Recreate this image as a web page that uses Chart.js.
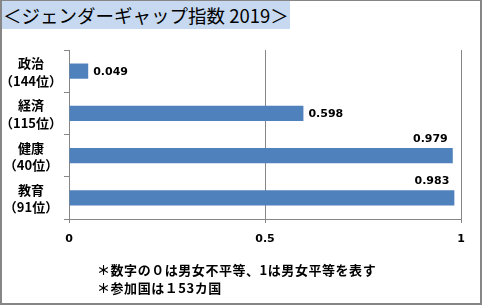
<!DOCTYPE html>
<html>
<head>
<meta charset="utf-8">
<script src="https://cdn.jsdelivr.net/npm/chart.js@4/dist/chart.umd.min.js"></script>
<style>
  html, body { margin: 0; padding: 0; background: #fff; }
  #wrap { position: relative; width: 482px; height: 305px; overflow: hidden; }
  #frame { position: absolute; left: 0; top: 0; width: 482px; height: 305px; box-sizing: border-box;
           border-style: solid; border-color: #868686; border-width: 1px 2px 2px 2px; pointer-events: none; }
  #title { position: absolute; left: 2px; top: 1px; width: 288px; height: 28px; background: #c6d9f1;
           font-family: "Noto Sans CJK JP", sans-serif; font-size: 18.5px; line-height: 28px; color: #000;
           padding-left: 1px; box-sizing: border-box; white-space: nowrap; }
  .note { position: absolute; left: 97px; font-family: "Noto Sans CJK JP", sans-serif; font-weight: bold;
          font-size: 13px; line-height: 16px; color: #000; white-space: nowrap; letter-spacing: 0.55px; }
  canvas { position: absolute; left: 0; top: 0; }
</style>
</head>
<body>
<div id="wrap">
  <canvas id="c" width="482" height="305"></canvas>
  <div id="title">＜ジェンダーギャップ指数 2019＞</div>
  <div class="note" style="top:262px">＊数字の０は男女不平等、1は男女平等を表す</div>
  <div class="note" style="top:280px">＊参加国は１53カ国</div>
  <div id="frame"></div>
</div>
<script>
const categories = [['政治', '（144位）'], ['経済', '（115位）'], ['健康', '（40位）'], ['教育', '（91位）']];
const values = [0.049, 0.598, 0.979, 0.983];
const valueLabels = ['0.049', '0.598', '0.979', '0.983'];
const xTicks = [0, 0.5, 1];

const labelPlugin = {
  id: 'barLabels',
  afterDatasetsDraw(chart) {
    const ctx = chart.ctx;
    const meta = chart.getDatasetMeta(0);
    const area = chart.chartArea;
    const yScale = chart.scales.y;
    ctx.save();
    // category labels (two lines, centred in the axis area)
    ctx.font = 'bold 13px "Noto Sans CJK JP", sans-serif';
    ctx.fillStyle = '#000';
    ctx.textAlign = 'center';
    ctx.textBaseline = 'middle';
    categories.forEach((lines, i) => {
      const cy = yScale.getPixelForTick(i);
      const cx = 31;
      ctx.fillText(lines[0], cx, cy - 8);
      ctx.fillText(lines[1], cx, cy + 9.5);
    });
    // value labels
    ctx.font = 'bold 11px "DejaVu Sans", sans-serif';
    meta.data.forEach((bar, i) => {
      const txt = valueLabels[i];
      const w = ctx.measureText(txt).width;
      if (bar.x + 5 + w <= area.right) {
        ctx.textAlign = 'left';
        ctx.fillText(txt, bar.x + 5, bar.y + 1);
      } else {
        ctx.textAlign = 'right';
        ctx.fillText(txt, bar.x - 5, bar.y - bar.height / 2 - 9);
      }
    });
    ctx.restore();
  }
};

new Chart(document.getElementById('c'), {
  type: 'bar',
  data: {
    labels: categories,
    datasets: [{
      data: values,
      backgroundColor: '#4f81bd',
      borderWidth: 0,
      categoryPercentage: 1,
      barPercentage: 0.36
    }]
  },
  plugins: [labelPlugin],
  options: {
    indexAxis: 'y',
    responsive: false,
    animation: false,
    events: [],
    layout: { padding: { top: 50, right: 21, left: 0, bottom: 0 } },
    plugins: { legend: { display: false }, tooltip: { enabled: false }, title: { display: false } },
    scales: {
      x: {
        min: 0, max: 1,
        afterBuildTicks(axis) { axis.ticks = xTicks.map(v => ({ value: v })); },
        afterFit(axis) { axis.height = 86; },
        border: { display: true, color: '#868686', width: 1 },
        grid: { color: '#868686', lineWidth: 1, tickLength: 4, drawTicks: true },
        ticks: {
          padding: 10,
          color: '#000',
          font: { family: '"DejaVu Sans", sans-serif', size: 11, weight: 'bold' },
          callback: v => String(v)
        }
      },
      y: {
        afterFit(axis) { axis.width = 69; },
        border: { display: true, color: '#868686', width: 1 },
        grid: { display: true, drawOnChartArea: false, color: '#868686', tickLength: 5, drawTicks: true, offset: true },
        ticks: { display: true, callback: () => '', padding: 0 }
      }
    }
  }
});
</script>
</body>
</html>
